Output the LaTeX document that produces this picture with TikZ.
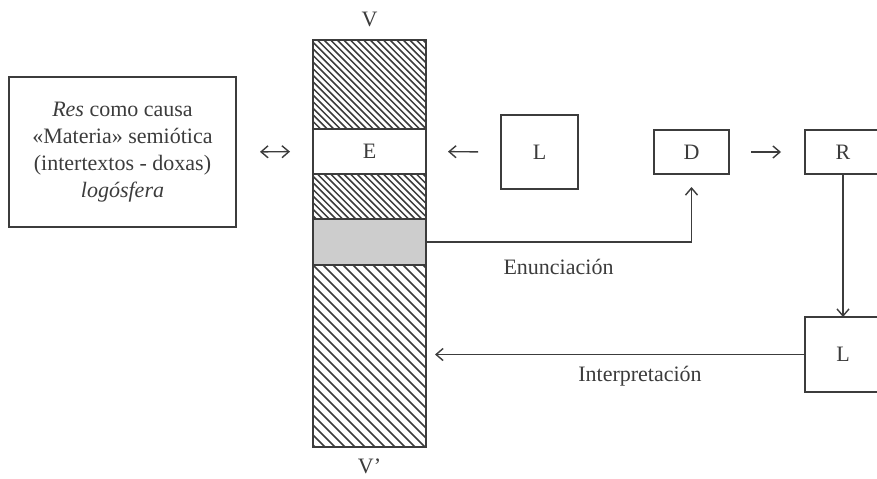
\documentclass[tikz,border=0pt]{standalone}
\usepackage{fontspec}
\setmainfont{Liberation Serif}
\usetikzlibrary{arrows.meta,positioning,calc}
\definecolor{cInk}{RGB}{60,60,60}
\definecolor{cShade}{RGB}{205,205,205}
\tikzset{
  basebox/.style={rectangle,draw=cInk,line width=0.8pt,align=center,
                  inner sep=0pt,outer sep=0pt,text=cInk,
                  font=\fontsize{11}{13.5}\selectfont},
  letterbox/.style={basebox,minimum width=38pt,minimum height=37pt},
  flatbox/.style={basebox,minimum width=38pt,minimum height=22pt},
  band/.style={basebox,minimum width=56.5pt},
  hatch/.style={path picture={
      \foreach \k in {0,...,70}
        \draw[cInk,line width=0.75pt]
          ([xshift=-110pt+\k*#1]path picture bounding box.north west)
          -- ++(130pt,-130pt);}},
  txt/.style={inner sep=0pt,text=cInk,font=\fontsize{11}{13.5}\selectfont},
  arr/.style={-{Straight Barb[length=3.5pt,width=6pt]},line width=0.7pt,color=cInk},
  dblarr/.style={{Straight Barb[length=3.5pt,width=6pt]}-{Straight Barb[length=3.5pt,width=6pt]},
                 line width=0.7pt,color=cInk}
}
\begin{document}
\begin{tikzpicture}[x=0.5pt,y=-0.5pt]

  \useasboundingbox (0,0) rectangle (877,478);
  \fill[white] (0,0) rectangle (877,478);
  \clip (0,0) rectangle (877,478);

  % Left: res box
  \node[basebox,minimum width=113.5pt,minimum height=75pt] (res) at (122.5,152)
      {\textit{Res} como causa\\
       «Materia» semiótica\\
       (intertextos - doxas)\\
       \textit{logósfera}};

  % Centre: the column V -- V'
  \node[band,minimum height=44.5pt,hatch=3.3pt] (top) at (369.5,84.5) {};
  \node[band,minimum height=22.5pt,below=0pt of top] (E) {E};
  \node[band,minimum height=22.5pt,hatch=3.3pt,below=0pt of E] (mid) {};
  \node[band,minimum height=23pt,fill=cShade,below=0pt of mid] (enun) {};
  \node[band,minimum height=91pt,hatch=5pt,below=0pt of enun] (bot) {};
  \node[txt,above=6.5pt of top] (V) {V};
  \node[txt,below=5.5pt of bot] (Vp) {V’};

  % Right: L, D, R and the lower L
  \node[letterbox,minimum width=38.5pt] (L) at (539.5,152) {L};
  \node[flatbox,minimum width=37.5pt] (D) at (691.5,152) {D};
  \node[flatbox] (R) at (843,152) {R};
  \node[letterbox,minimum height=37.5pt] (Lb) at (843,354.5) {L};

  % Arrows
  \draw[dblarr,shorten <=12pt,shorten >=11.5pt] (res.east) -- (E.west);
  \draw[arr,shorten <=11.5pt,shorten >=11pt] (L.west) -- (E.east);
  \draw[arr,shorten <=11pt,shorten >=12pt] (D.east) -- (R.west);
  \draw[arr] (R) -- (Lb);
  \draw[arr,shorten >=6.5pt] (enun.east) -| (D.south);
  \draw[arr,shorten >=4.5pt] (Lb.west) -- (Lb.west -| bot.east);

  % Labels
  \node[txt] (enunlbl) at (558.5,267) {Enunciación};
  \node[txt] (interlbl) at (640,376) {Interpretación};

\end{tikzpicture}
\end{document}
